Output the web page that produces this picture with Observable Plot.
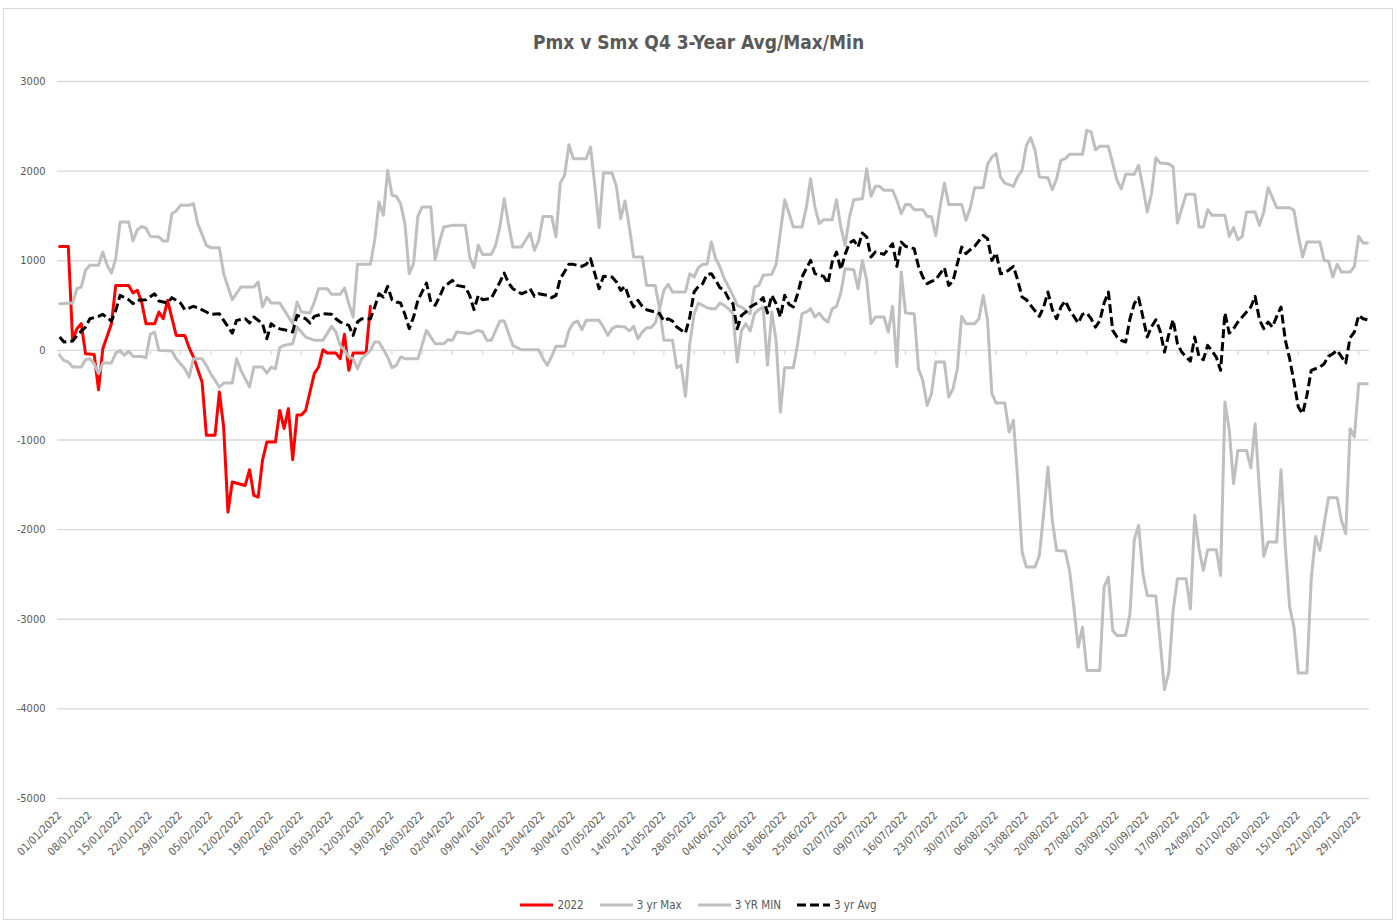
<!DOCTYPE html>
<html>
<head>
<meta charset="utf-8">
<script src="https://cdn.jsdelivr.net/npm/d3@7"></script>
<script src="https://cdn.jsdelivr.net/npm/@observablehq/plot@0.6"></script>
<style>
  html, body { margin: 0; padding: 0; background: #fff; }
  #page { position: relative; width: 1397px; height: 924px; overflow: hidden; font-family: 'Liberation Sans Narrow', 'DejaVu Sans Condensed', sans-serif; }
  #frame { position: absolute; left: 3px; top: 8px; width: 1388px; height: 910px; border: 1px solid #d9d9d9; }
  #title { position: absolute; left: 0; top: 28px; width: 1397px; text-align: center; font-size: 19px; font-weight: bold; color: #595959; line-height: 28px; }
  #chart { position: absolute; left: 0; top: 60px; }
  #legend { position: absolute; left: 0; top: 896px; width: 1397px; display: flex; justify-content: center; align-items: center; font-size: 11.5px; color: #595959; line-height: 18px; }
  .item { display: flex; align-items: center; margin: 0 8px; }
  .item svg { margin-right: 4px; }
</style>
</head>
<body>
<div id="page">
  <div id="frame"></div>
  <div id="title">Pmx v Smx Q4 3-Year Avg/Max/Min</div>
  <div id="chart"></div>
  <div id="legend"></div>
</div>
<script>
// ---- Data (day offset from 01/01/2022, value) ----
const seriesNames = ["2022", "3 yr Max", "3 YR MIN", "3 yr Avg"];

const redDays = [0,2,3,4,5,6,8,9,10,12,13,16,17,18,19,20,22,23,24,25,27,29,30,31,33,34,36,37,38,39,40,43,44,45,46,47,48,50,51,52,53,54,55,56,57,59,60,61,62,64,65,66,67,68,71,72];
const redVals = [1160,1160,112,242,298,-37,-45,-439,19,298,725,725,640,670,539,298,298,428,353,558,167,167,30,-74,-353,-948,-948,-465,-856,-1804,-1469,-1507,-1332,-1618,-1637,-1228,-1023,-1023,-670,-870,-650,-1220,-720,-720,-670,-260,-186,7,-30,-30,-93,179,-223,-30,-30,491];

const maxDays = [0,3,4,5,6,7,9,10,11,12,13,14,16,17,18,19,20,21,23,24,25,26,27,28,30,31,32,34,35,37,38,40,42,45,46,47,48,49,51,54,55,56,58,59,60,62,63,65,66,67,68,69,72,73,74,75,76,77,78,79,80,81,82,83,84,86,87,88,89,91,94,95,96,97,98,100,101,102,103,104,105,107,109,110,111,112,114,115,116,117,118,119,122,123,124,125,126,128,129,130,131,132,133,135,136,138,139,140,141,142,145,146,147,148,149,150,151,152,153,154,155,156,157,158,159,160,161,162,163,165,166,167,168,170,172,173,174,175,176,177,179,180,181,182,183,184,186,187,188,189,190,191,193,194,195,196,197,198,200,201,202,203,204,205,206,209,210,211,212,214,215,216,217,218,219,221,222,223,224,225,226,227,229,230,231,232,233,234,237,238,239,240,241,243,245,246,247,249,250,251,252,253,254,255,257,258,259,261,263,264,265,266,267,270,271,272,273,274,275,277,278,279,280,281,282,285,286,287,288,289,292,293,294,295,296,297,299,300,301,302,303];
const maxVals = [521,528,688,707,893,949,949,1097,949,863,1023,1432,1432,1220,1347,1384,1365,1272,1265,1220,1220,1525,1555,1618,1618,1637,1414,1172,1146,1146,856,565,707,707,763,484,595,528,528,298,539,428,417,539,688,688,625,625,696,521,372,960,960,1228,1655,1507,2009,1730,1719,1637,1414,856,967,1495,1600,1600,1012,1209,1376,1395,1395,1042,923,1172,1071,1071,1170,1380,1693,1414,1153,1153,1309,1116,1228,1495,1495,1265,1867,1953,2295,2139,2139,2269,1841,1369,1979,1979,1830,1469,1667,1376,1042,1042,725,725,462,670,737,651,651,856,818,923,960,960,1209,1023,930,800,707,614,502,484,446,409,707,725,837,848,960,1321,1681,1376,1376,1592,1916,1600,1414,1458,1458,1681,1376,1172,1488,1681,1693,2027,1719,1830,1830,1786,1786,1674,1525,1629,1629,1570,1570,1495,1495,1280,1600,1867,1629,1629,1451,1592,1815,1815,2076,2158,2195,1934,1867,1830,1942,2009,2288,2373,2232,1934,1927,1793,1916,2120,2139,2187,2187,2455,2437,2239,2277,2277,1897,1804,1964,1964,2065,1823,1544,1750,2150,2090,2083,2046,1421,1741,1741,1376,1376,1570,1507,1507,1272,1369,1235,1272,1544,1544,1395,1544,1815,1704,1592,1592,1562,1283,1042,1209,1209,1004,997,818,960,874,874,937,1272,1198,1198];

const minDays = [0,1,2,3,5,6,7,8,9,10,12,13,14,15,16,17,19,20,21,22,23,26,27,29,30,31,33,34,35,37,38,40,41,42,44,45,47,48,49,50,51,52,54,55,57,58,59,61,63,64,65,66,67,68,69,70,72,73,74,76,77,78,79,80,83,85,86,87,89,90,91,92,94,95,97,98,99,100,101,102,103,104,105,106,107,111,112,113,114,115,117,118,119,120,121,122,125,126,127,128,129,131,132,133,134,135,136,137,138,139,140,142,143,144,145,146,147,148,150,151,152,153,154,155,156,157,158,159,160,161,162,163,164,165,166,167,168,170,171,172,173,174,175,176,177,178,179,180,181,182,184,185,186,187,188,189,191,192,193,194,195,196,198,199,200,201,202,203,205,206,207,208,209,210,212,213,214,215,216,217,219,220,221,222,223,224,226,227,228,229,230,231,233,234,235,236,237,238,241,242,243,244,245,247,248,249,250,251,252,254,255,256,257,258,259,261,262,263,264,265,266,268,269,270,271,272,273,275,276,277,278,279,280,282,283,284,285,286,287,289,290,291,292,293,294,296,297,298,299,300,301,303];
const minVals = [-56,-112,-130,-186,-186,-104,-93,-149,-260,-141,-141,-30,0,-56,-7,-67,-67,-82,179,205,0,-7,-93,-205,-298,-93,-93,-167,-260,-409,-365,-365,-93,-223,-409,-186,-186,-253,-186,-205,30,56,74,260,149,130,112,112,268,205,56,0,-74,-93,-205,-93,0,93,93,-74,-193,-167,-74,-93,-93,223,149,74,74,119,112,205,193,186,223,205,112,112,220,327,327,193,56,30,7,7,-93,-167,-67,45,45,223,305,327,231,335,335,260,167,242,268,260,216,268,130,205,253,253,305,462,112,112,-193,-167,-513,74,402,528,476,465,465,528,500,465,409,-130,223,298,216,409,454,484,-167,428,112,-688,-193,-193,74,409,428,465,372,417,353,316,465,491,640,911,900,688,1004,781,298,372,372,205,491,-179,874,417,409,-205,-335,-614,-484,-130,-130,-521,-428,-205,379,298,298,353,614,335,-484,-588,-588,-911,-781,-1451,-2250,-2418,-2418,-2288,-1823,-1302,-1897,-2232,-2239,-2455,-2864,-3311,-3088,-3571,-3571,-2641,-2530,-3125,-3181,-3181,-2939,-2113,-1953,-2492,-2734,-2740,-3250,-3787,-3590,-2902,-2548,-2548,-2883,-1841,-2213,-2455,-2225,-2225,-2511,-577,-885,-1488,-1116,-1116,-1310,-818,-1562,-2299,-2139,-2139,-1332,-2195,-2864,-3088,-3601,-3601,-2548,-2076,-2232,-1934,-1644,-1644,-1897,-2046,-874,-967,-372,-372];

const avgDays = [0,1,3,4,6,7,9,10,12,13,14,16,17,18,20,22,23,25,26,28,29,31,32,34,35,37,38,40,41,43,44,45,47,48,49,50,51,52,54,55,57,58,59,61,63,64,65,67,68,69,70,72,73,74,75,76,77,78,79,80,81,82,83,85,86,87,88,89,91,92,94,95,96,97,98,100,101,102,103,104,105,107,108,109,110,111,113,114,115,116,118,119,121,122,123,124,125,126,128,129,130,131,132,133,134,135,136,138,139,140,141,142,143,145,146,147,148,149,150,151,152,153,154,155,156,157,158,159,160,162,163,164,165,166,167,168,169,170,171,172,174,175,177,178,179,180,181,182,183,184,185,186,187,188,189,190,191,193,194,195,196,198,199,200,201,202,203,204,205,206,207,208,209,210,211,212,214,215,216,217,218,219,220,221,222,223,224,225,227,228,229,230,231,232,233,234,236,237,238,239,240,241,242,243,244,245,246,247,248,249,250,251,252,253,254,255,256,257,258,259,260,261,262,263,264,265,266,267,268,269,270,271,272,273,275,276,277,278,279,280,281,282,283,284,285,286,287,288,289,290,292,293,294,295,296,298,299,300,301,302,303];
const avgVals = [149,93,104,167,260,353,379,402,327,446,614,565,521,558,565,632,551,528,588,528,454,491,476,428,402,409,335,193,335,353,305,372,298,130,298,260,240,231,205,391,353,305,379,409,402,353,316,279,167,316,353,353,484,632,595,714,565,539,528,402,242,372,558,751,539,502,595,707,781,725,707,614,454,614,565,580,670,760,863,751,688,632,651,688,603,632,614,588,614,800,960,960,937,960,1023,856,688,826,818,763,670,714,577,484,558,491,454,428,409,327,353,327,260,193,372,651,714,744,848,856,781,699,670,577,521,242,391,428,484,539,588,417,614,521,372,614,513,484,632,818,1004,856,826,744,986,1097,900,1071,1198,1228,1153,1309,1265,1042,1097,1086,1071,1190,937,1209,1161,1135,937,818,744,770,789,856,923,725,774,967,1153,1079,1123,1161,1283,1246,1004,1086,856,863,900,937,781,595,565,502,379,484,651,454,353,484,551,454,305,402,417,353,260,327,528,651,223,149,112,93,353,521,588,372,149,264,342,215,-19,179,342,74,-19,-74,-119,149,-74,-104,56,-7,-74,-223,417,193,242,316,428,484,603,342,242,316,260,379,484,112,-93,-353,-632,-707,-502,-223,-186,-149,-67,-37,0,-141,141,205,391,353,342];

const tickLabels = ["01/01/2022","08/01/2022","15/01/2022","22/01/2022","29/01/2022","05/02/2022","12/02/2022","19/02/2022","26/02/2022","05/03/2022","12/03/2022","19/03/2022","26/03/2022","02/04/2022","09/04/2022","16/04/2022","23/04/2022","30/04/2022","07/05/2022","14/05/2022","21/05/2022","28/05/2022","04/06/2022","11/06/2022","18/06/2022","25/06/2022","02/07/2022","09/07/2022","16/07/2022","23/07/2022","30/07/2022","06/08/2022","13/08/2022","20/08/2022","27/08/2022","03/09/2022","10/09/2022","17/09/2022","24/09/2022","01/10/2022","08/10/2022","15/10/2022","22/10/2022","29/10/2022"];
const yTicks = [-5000,-4000,-3000,-2000,-1000,0,1000,2000,3000];

const colors = ["#FF0000", "#BFBFBF", "#BFBFBF", "#000000"];

// ---- Build rows ----
const start = Date.UTC(2022, 0, 1);
const toRows = (days, vals) => days.map((d, i) => ({date: d3.utcDay.offset(new Date(start), d), value: vals[i]}));
const redRows = toRows(redDays, redVals);
const maxRows = toRows(maxDays, maxVals);
const minRows = toRows(minDays, minVals);
const avgRows = toRows(avgDays, avgVals);
const parse = d3.utcParse("%d/%m/%Y");
const tickDates = tickLabels.map(parse);
const fmt = d3.utcFormat("%d/%m/%Y");

const chart = Plot.plot({
  width: 1397,
  height: 830,
  marginLeft: 57,
  marginRight: 28,
  marginTop: 21,
  marginBottom: 92,
  style: {fontFamily: "'Liberation Sans Narrow', 'DejaVu Sans Condensed', sans-serif", fontSize: "11px", color: "#595959", background: "transparent"},
  x: {type: "utc", domain: [new Date(Date.UTC(2021, 11, 31, 12)), new Date(Date.UTC(2022, 9, 31, 12))], label: null},
  y: {domain: [-5000, 3000], label: null},
  marks: [
    Plot.gridY(yTicks, {stroke: "#d9d9d9", strokeOpacity: 1, strokeWidth: 1.3}),
    Plot.ruleX(tickDates, {x: d => d, y1: 0, y2: 0, insetBottom: -5, stroke: "#d9d9d9", strokeWidth: 1.3}),
    Plot.axisY(yTicks, {tickSize: 0, tickPadding: 12, label: null, tickFormat: d => String(d)}),
    Plot.axisX(tickDates, {anchor: "bottom", tickSize: 0, tickPadding: 15, tickRotate: -45, tickFormat: fmt, label: null}),
    Plot.line(redRows, {x: "date", y: "value", stroke: colors[0], strokeWidth: 3}),
    Plot.line(maxRows, {x: "date", y: "value", stroke: colors[1], strokeWidth: 3}),
    Plot.line(minRows, {x: "date", y: "value", stroke: colors[2], strokeWidth: 3}),
    Plot.line(avgRows, {x: "date", y: "value", stroke: colors[3], strokeWidth: 3, strokeDasharray: "9,4", strokeLinecap: "butt"})
  ]
});
document.getElementById("chart").appendChild(chart);

// ---- Legend ----
const legend = document.getElementById("legend");
seriesNames.forEach((name, i) => {
  const item = document.createElement("div");
  item.className = "item";
  const dash = i === 3 ? 'stroke-dasharray="9,4"' : '';
  item.innerHTML = `<svg width="33" height="10"><line x1="0" y1="5" x2="33" y2="5" stroke="${colors[i]}" stroke-width="3" ${dash}/></svg><span>${name}</span>`;
  legend.appendChild(item);
});
</script>
</body>
</html>
